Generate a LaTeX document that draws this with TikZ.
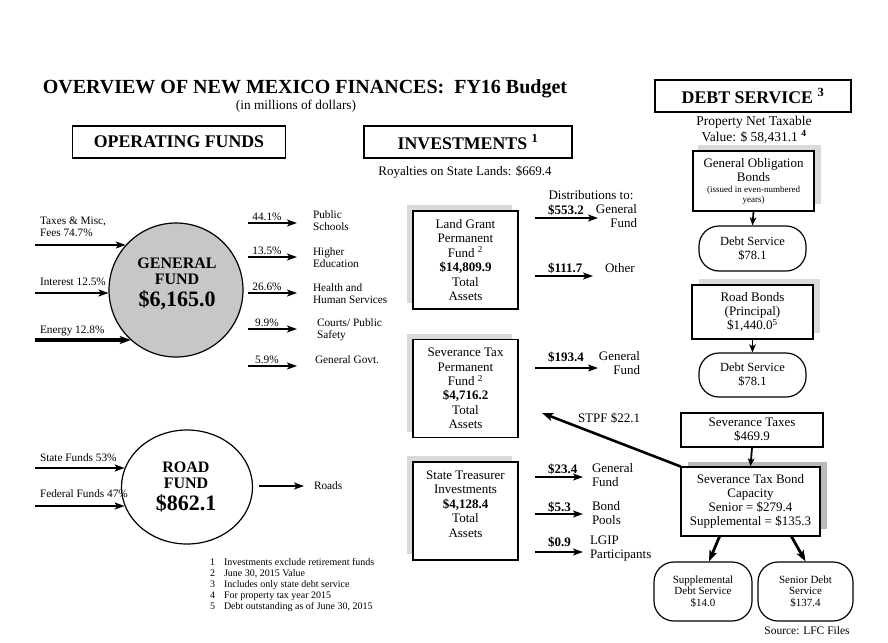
\documentclass[tikz,border=0pt]{standalone}
\usepackage{fontspec}
\setmainfont{Liberation Serif}
\usetikzlibrary{arrows.meta,shapes.geometric}
\newcommand{\myfs}[2]{\fontsize{#1}{#2}\selectfont}

\tikzset{
  arr/.style={line width=2.2pt, -{Stealth[length=10pt,width=7pt,inset=2.5pt]}},
  thickarr/.style={line width=3.2pt, -{Stealth[length=11pt,width=8pt,inset=2.5pt]}},
  sarr/.style={line width=1.8pt, -{Stealth[length=8pt,width=6.5pt,inset=2pt]}},
  txt/.style={inner sep=0pt, outer sep=0pt, align=left, font=\myfs{11.3}{12}},
  ctxt/.style={inner sep=0pt, outer sep=0pt, align=center},
  btxt/.style={inner sep=0pt, outer sep=0pt, font=\myfs{13}{14}\bfseries},
  rtxt/.style={inner sep=0pt, outer sep=0pt, font=\myfs{13}{14}},
  hdr/.style={draw, line width=1.8pt, inner sep=0pt, minimum height=32pt, font=\myfs{17.8}{20}\bfseries},
  invbox/.style={draw, fill=white, line width=1.2pt, minimum width=105pt, minimum height=98pt, inner sep=0pt, align=center, font=\myfs{13}{14.4}},
  invshadow/.style={fill=black!15, minimum width=105pt, minimum height=98pt, inner sep=0pt},
  dbox/.style={draw, fill=white, line width=1.2pt, inner sep=0pt, align=center, font=\myfs{13}{14}},
  pill/.style={draw, fill=white, line width=1.2pt, rounded corners=20pt, inner sep=0pt, align=center, font=\myfs{12.5}{14}},
  fnote/.style={inner sep=0pt, outer sep=0pt, anchor=base west, font=\myfs{10}{11}},
}

\begin{document}
\begin{tikzpicture}[x=1pt,y=-1pt]
\useasboundingbox (0,0) rectangle (888,642);
\fill[white] (0,0) rectangle (888,642);

% ---------- title ----------
\node[ctxt, font=\myfs{20}{24}\bfseries] (title) at (305,89) {OVERVIEW OF NEW MEXICO FINANCES:\ \ FY16 Budget};
\node[ctxt, font=\myfs{13.3}{15}] (subtitle) at (296,106) {(in millions of dollars)};

% ---------- headers ----------
\node[hdr, minimum width=213pt] (hop) at (179,142) {OPERATING FUNDS};
\node[hdr, minimum width=208pt] (hinv) at (468,142) {INVESTMENTS \textsuperscript{1}};
\node[hdr, line width=2.6pt, minimum width=196pt] (hdebt) at (753,96) {DEBT SERVICE \textsuperscript{3}};

% ---------- general fund ----------
\node[circle, draw, line width=1.2pt, fill=black!22, minimum size=134pt, inner sep=0pt] (gf) at (176,290) {};
\node[ctxt, font=\myfs{16}{16}\bfseries] (gft) at (177,271) {GENERAL\\FUND};
\node[ctxt, font=\myfs{22}{22}\bfseries] (gfv) at (177,300) {\$6,165.0};

\node[txt, anchor=west] (lin1) at (40,227) {Taxes \& Misc,\\Fees 74.7\%};
\node[txt, anchor=west] (lin2) at (40,282) {Interest 12.5\%};
\node[txt, anchor=west] (lin3) at (40,331) {Energy 12.8\%};
\coordinate (gin1) at (35,245);
\coordinate (gin2) at (35,293);
\coordinate (gin3) at (35,340);
\draw[arr] (gin1) -- (gin1 -| gf.138);
\draw[arr] (gin2) -- (gin2 -| gf.183);
\draw[thickarr] (gin3) -- (gin3 -| gf.228);

% outgoing
\foreach \y/\p/\n in {223/44.1/1, 257/13.5/2, 293/26.6/3, 329/9.9/4, 366/5.9/5}{
  \coordinate (go\n s) at (248,\y);
  \coordinate (go\n e) at (297,\y);
  \node[txt, anchor=base] (gp\n) at (267,\y-3) {\p\%};
  \draw[arr] (go\n s) -- (go\n e);
}
\node[txt, anchor=west] (out1) at (313,221) {Public\\Schools};
\node[txt, anchor=west] (out2) at (313,258) {Higher\\Education};
\node[txt, anchor=west] (out3) at (313,294) {Health and\\Human Services};
\node[txt, anchor=west] (out4) at (317,330) {Courts/ Public\\Safety};
\node[txt, anchor=west] (out5) at (315,360) {General Govt.};

% ---------- road fund ----------
\node[ellipse, draw, line width=1.2pt, minimum width=131pt, minimum height=114pt, inner sep=0pt] (rf) at (187,487) {};
\node[ctxt, font=\myfs{16}{16}\bfseries] (rft) at (186,475) {ROAD\\FUND};
\node[ctxt, font=\myfs{22}{22}\bfseries] (rfv) at (186,503) {\$862.1};
\node[txt, anchor=west] (rin1l) at (40,458) {State Funds 53\%};
\node[txt, anchor=west] (rin2l) at (40,494) {Federal Funds 47\%};
\coordinate (rin1) at (35,468);
\coordinate (rin2) at (35,506);
\draw[arr] (rin1) -- (rin1 -| rf.163);
\draw[arr] (rin2) -- (rin2 -| rf.197);
\node[txt, anchor=west] (roads) at (314,486) {Roads};
\coordinate (rout) at (259,486);
\draw[arr] (rout) -- ([xshift=-10pt]roads.west);

% ---------- footnotes ----------
\foreach \i/\t [count=\k] in {1/Investments exclude retirement funds, 2/{June 30, 2015 Value}, 3/Includes only state debt service, 4/For property tax year 2015, 5/{Debt outstanding as of June 30, 2015}}{
  \node[fnote] (fnn\k) at (210,555+10.8*\k) {\i};
  \node[fnote] (fnt\k) at (224,555+10.8*\k) {\t};
}

% ---------- investments ----------
\node[ctxt, font=\myfs{13}{14}] (roy) at (465,172) {Royalties on State Lands: \$669.4};

\node[invshadow] (lgs) at (459.5,254) {};
\node[invbox] (lg) at (465.5,260) {Land Grant\\Permanent\\Fund \textsuperscript{2}\\\textbf{\$14,809.9}\\Total\\Assets};

\node[invshadow] (sts) at (459.5,382.5) {};
\node[invbox] (st) at (465.5,388.5) {Severance Tax\\Permanent\\Fund \textsuperscript{2}\\\textbf{\$4,716.2}\\Total\\Assets};

\node[invshadow] (tis) at (459.5,505) {};
\node[invbox] (ti) at (465.5,511) {};
\node[ctxt, font=\myfs{13}{14.4}] (tit) at (465.5,504) {State Treasurer\\Investments\\\textbf{\$4,128.4}\\Total\\Assets};

% land grant distributions
\node[ctxt, font=\myfs{13}{14}] (dist) at (591,195) {Distributions to:};
\node[btxt, anchor=base west] (d1v) at (548,214) {\$553.2};
\node[rtxt, align=right, anchor=north east] (d1t) at (637,204) {General\\Fund};
\coordinate (d1s) at (535,218); \coordinate (d1e) at (598,218);
\draw[arr] (d1s) -- (d1e);

\node[btxt, anchor=base west] (d2v) at (548,272) {\$111.7};
\node[rtxt, anchor=base west] (d2t) at (605,272) {Other};
\coordinate (d2s) at (535,276); \coordinate (d2e) at (593,276);
\draw[arr] (d2s) -- (d2e);

% severance distributions
\node[btxt, anchor=base west] (d3v) at (548,361) {\$193.4};
\node[rtxt, align=right, anchor=north east] (d3t) at (640,351) {General\\Fund};
\coordinate (d3s) at (535,368); \coordinate (d3e) at (598,368);
\draw[arr] (d3s) -- (d3e);

\node[rtxt, anchor=base west] (stpf) at (578,422) {STPF \$22.1};

% treasurer distributions
\node[btxt, anchor=base west] (d4v) at (548,473) {\$23.4};
\node[rtxt, align=left, anchor=north west] (d4t) at (592,463) {General\\Fund};
\coordinate (d4s) at (535,477); \coordinate (d4e) at (583,477);
\draw[arr] (d4s) -- (d4e);

\node[btxt, anchor=base west] (d5v) at (548,511) {\$5.3};
\node[rtxt, align=left, anchor=north west] (d5t) at (592,501) {Bond\\Pools};
\coordinate (d5s) at (535,514); \coordinate (d5e) at (583,514);
\draw[arr] (d5s) -- (d5e);

\node[btxt, anchor=base west] (d6v) at (548,546) {\$0.9};
\node[rtxt, align=left, anchor=north west] (d6t) at (590,536) {LGIP\\Participants};
\coordinate (d6s) at (535,552); \coordinate (d6e) at (583,552);
\draw[arr] (d6s) -- (d6e);

% ---------- debt service ----------
\node[ctxt, font=\myfs{13.5}{14}] (pnt) at (754,130) {Property Net Taxable\\Value: \$ 58,431.1 \textsuperscript{\bfseries 4}};

\node[fill=black!15, minimum width=123pt, minimum height=59pt, inner sep=0pt] (gos) at (759.5,174.5) {};
\node[dbox, minimum width=121pt, minimum height=60pt] (go) at (753.5,181) {};
\node[ctxt, font=\myfs{13}{14}] (got) at (753.5,170) {General Obligation\\Bonds};
\node[ctxt, font=\myfs{9}{10}] (gos2) at (753.5,195) {(issued in even-numbered\\years)};

\node[pill, minimum width=107pt, minimum height=45pt] (ds1) at (752.5,248.5) {Debt Service\\\$78.1};
\draw[sarr] (go.south) -- (ds1.north);

\node[fill=black!14, minimum width=121pt, minimum height=54pt, inner sep=0pt] (rbs) at (759.5,306) {};
\node[dbox, minimum width=121pt, minimum height=54pt] (rb) at (752.5,312) {Road Bonds\\(Principal)\\\$1,440.0\textsuperscript{5}};

\node[pill, minimum width=107pt, minimum height=44pt] (ds2) at (752.5,375) {Debt Service\\\$78.1};
\draw[sarr] (rb.south) -- (ds2.north);

\node[dbox, minimum width=142pt, minimum height=34pt] (sv) at (752,430) {Severance Taxes\\\$469.9};

\node[fill=black!27, minimum width=139pt, minimum height=67pt, inner sep=0pt] (stbcs) at (757.5,495.5) {};
\node[dbox, minimum width=139pt, minimum height=69pt] (stbc) at (750.5,501.5) {Severance Tax Bond\\Capacity\\Senior = \$279.4\\Supplemental = \$135.3};
\draw[sarr] (sv.south) -- (stbc.north);

\node[pill, minimum width=98pt, minimum height=59pt, font=\myfs{11}{11.6}] (sup) at (703,591.5) {Supplemental\\Debt Service\\\$14.0};
\node[pill, minimum width=95pt, minimum height=59pt, font=\myfs{11}{11.6}] (sen) at (805.5,591.5) {Senior Debt\\Service\\\$137.4};
\draw[thickarr, line width=2.8pt] ([xshift=-31pt]stbc.south) -- ([xshift=6pt]sup.north);
\draw[thickarr, line width=2.8pt] ([xshift=41pt]stbc.south) -- ([xshift=0pt]sen.north);

\coordinate (stpfend) at (542,413);
\draw[thickarr, line width=2.6pt] (stbc.north west) -- (stpfend);

\node[ctxt, font=\myfs{11.5}{12}] (src) at (807,631) {Source: LFC Files};

\end{tikzpicture}
\end{document}
